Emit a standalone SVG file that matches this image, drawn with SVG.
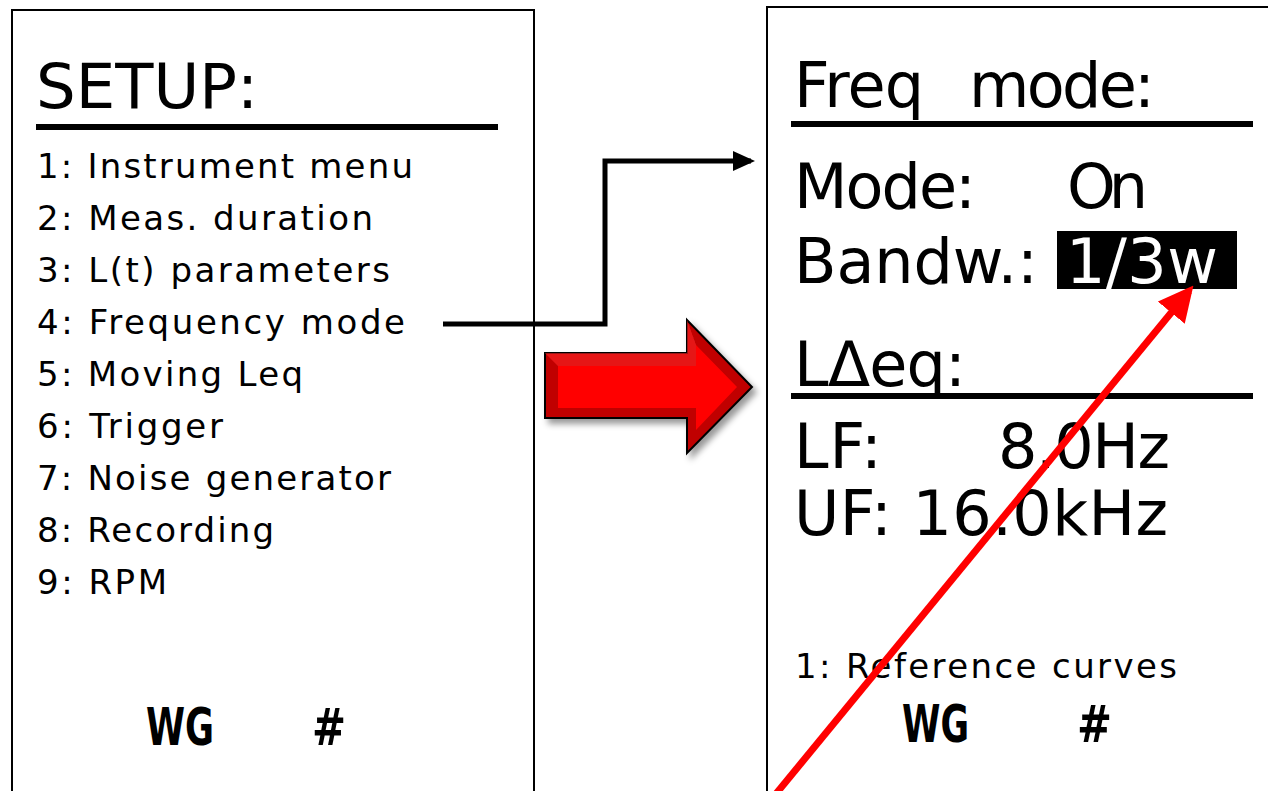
<svg xmlns="http://www.w3.org/2000/svg" width="1268" height="791" viewBox="0 0 1268 791">
<style>
.t{font-family:"DejaVu Sans","Liberation Sans",sans-serif;fill:#000}
.big{font-size:62px}
.menu{font-size:34px}
.key{font-family:"Liberation Sans Narrow","DejaVu Sans Condensed","Liberation Sans",sans-serif;font-weight:bold;font-size:52px}
.panel{fill:#fff;stroke:#000;stroke-width:2}
.rule{stroke:#000;stroke-width:6}
</style>
<defs>
<marker id="ah" markerWidth="4.4" markerHeight="4" refX="3.6" refY="2" orient="auto" markerUnits="strokeWidth">
<path d="M0,0 L4.4,2 L0,4 Z" fill="#000"/>
</marker>
<marker id="rh" markerWidth="5" markerHeight="5" refX="4" refY="2.5" orient="auto" markerUnits="strokeWidth">
<path d="M0,0 L5,2.5 L0,5 Z" fill="#f00"/>
</marker>
<filter id="sh" x="-20%" y="-20%" width="150%" height="150%">
<feDropShadow dx="4" dy="5" stdDeviation="3" flood-color="#000" flood-opacity="0.4"/>
</filter>
</defs>

<g id="setup-panel">
<rect class="panel" x="12" y="10" width="522" height="800"/>
<text class="t big" x="36" y="108" textLength="222" lengthAdjust="spacingAndGlyphs">SETUP:</text>
<line class="rule" x1="36" y1="127" x2="498" y2="127"/>
<text class="t menu" x="37" y="178" textLength="376" lengthAdjust="spacing">1: Instrument menu</text>
<text class="t menu" x="37" y="230" textLength="336" lengthAdjust="spacing">2: Meas. duration</text>
<text class="t menu" x="37" y="282" textLength="353" lengthAdjust="spacing">3: L(t) parameters</text>
<text class="t menu" x="37" y="334" textLength="368" lengthAdjust="spacing">4: Frequency mode</text>
<text class="t menu" x="37" y="386" textLength="266" lengthAdjust="spacing">5: Moving Leq</text>
<text class="t menu" x="37" y="438" textLength="186" lengthAdjust="spacing">6: Trigger</text>
<text class="t menu" x="37" y="490" textLength="354" lengthAdjust="spacing">7: Noise generator</text>
<text class="t menu" x="37" y="542" textLength="237" lengthAdjust="spacing">8: Recording</text>
<text class="t menu" x="37" y="594" textLength="130" lengthAdjust="spacing">9: RPM</text>
<text class="t key" x="146" y="745" textLength="68" lengthAdjust="spacingAndGlyphs">WG</text>
<text class="t key" x="312" y="745" textLength="34" lengthAdjust="spacingAndGlyphs">#</text>
</g>

<g id="freq-panel">
<rect class="panel" x="767" y="7" width="540" height="800"/>
<text class="t big" x="794" y="107" textLength="130" lengthAdjust="spacing">Freq</text>
<text class="t big" x="969" y="107" textLength="186" lengthAdjust="spacing">mode:</text>
<line class="rule" x1="791" y1="124" x2="1253" y2="124"/>
<text class="t big" x="794" y="208" textLength="182" lengthAdjust="spacing">Mode:</text>
<text class="t big" x="1067" y="208" textLength="81" lengthAdjust="spacing">On</text>
<text class="t big" x="794" y="283" textLength="244" lengthAdjust="spacing">Bandw.:</text>
<rect x="1057" y="231" width="180" height="58" fill="#000"/>
<text class="t big" x="1066" y="283" textLength="152" lengthAdjust="spacing" style="fill:#fff">1/3w</text>
<text class="t big" x="794" y="386" textLength="172" lengthAdjust="spacing">LΔeq:</text>
<line class="rule" x1="791" y1="396" x2="1253" y2="396"/>
<text class="t big" x="794" y="468" textLength="88" lengthAdjust="spacing">LF:</text>
<text class="t big" x="998" y="468" textLength="172" lengthAdjust="spacing">8.0Hz</text>
<text class="t big" x="794" y="535" textLength="374" lengthAdjust="spacing">UF: 16.0kHz</text>
<text class="t menu" x="795" y="678" textLength="382" lengthAdjust="spacing">1: Reference curves</text>
<text class="t key" x="902" y="742" textLength="67" lengthAdjust="spacingAndGlyphs">WG</text>
<text class="t key" x="1077" y="742" textLength="35" lengthAdjust="spacingAndGlyphs">#</text>
</g>

<g id="transition-arrow" filter="url(#sh)">
<polygon points="545,353 687,353 687,320 752,387 687,453 687,418 545,418" fill="#c00000" stroke="#000" stroke-width="2"/>
<polygon points="558,366 696,366 696,345 737,387 696,430 696,408 558,408" fill="#ff0000"/>
<polygon points="545,353 687,353 687,320 696,345 696,366 558,366" fill="#ff2a2a" opacity="0.6"/>
</g>

<g id="connectors">
<polyline points="443,324 605,324 605,161 751,161" fill="none" stroke="#000" stroke-width="5" marker-end="url(#ah)"/>
<line x1="775" y1="795" x2="1189" y2="291" stroke="#f00" stroke-width="7" marker-end="url(#rh)"/>
</g>
</svg>
